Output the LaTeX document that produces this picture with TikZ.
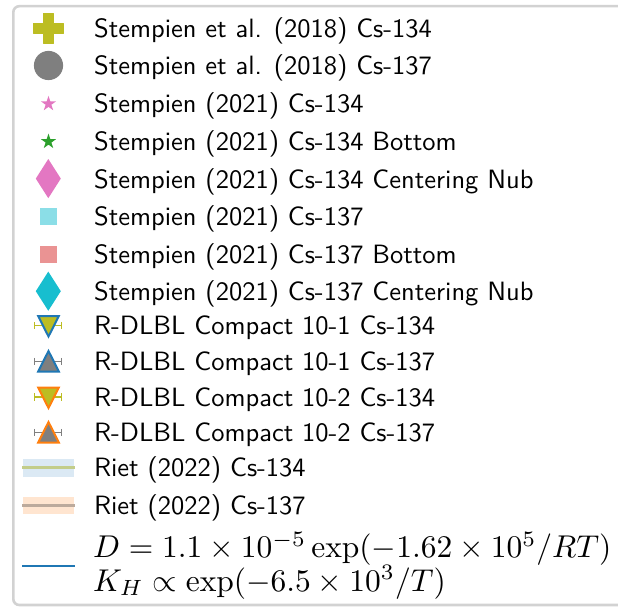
\documentclass[tikz,border=0pt]{standalone}
\usetikzlibrary{shapes.geometric}
\definecolor{olive}{HTML}{BCBD22}
\definecolor{mgray}{HTML}{7F7F7F}
\definecolor{mpink}{HTML}{E377C2}
\definecolor{mgreen}{HTML}{2CA02C}
\definecolor{mcyan}{HTML}{17BECF}
\definecolor{lcyan}{HTML}{8BDEE7}
\definecolor{lred}{HTML}{EA9393}
\definecolor{mblue}{HTML}{1F77B4}
\definecolor{morange}{HTML}{FF7F0E}
\definecolor{bandblue}{HTML}{DBE9F4}
\definecolor{bandorange}{HTML}{FFE5D0}
\definecolor{lineolive}{HTML}{C3CD8A}
\definecolor{linegray}{HTML}{BCAA9C}
\definecolor{framegray}{HTML}{D2D2D2}
\tikzset{
  lab/.style={anchor=base west, inner sep=0pt, scale=2.65, font=\fontsize{10}{12}\selectfont\sffamily},
  mlab/.style={anchor=base west, inner sep=0pt, scale=3.15, font=\fontsize{10}{12}\selectfont},
  starmark/.style={star, star points=5, star point ratio=2.618, minimum size=16pt, inner sep=0pt, draw=none},
  errbar/.style={line width=1.5pt},
}
\begin{document}
\begin{tikzpicture}[x=1pt,y=-1pt]
\useasboundingbox (0,0) rectangle (618,607);
\clip (0,0) rectangle (618,607);
% frame
\draw[framegray, line width=2.6pt, rounded corners=6pt] (700,6.2) -- (13.3,6.2) -- (13.3,605) -- (700,605);
% markers
% 1 plus
\fill[olive, draw=olive, line width=1pt, line join=round]
  (43.3,13.3) -- (53.3,13.3) -- (53.3,23.3) -- (63.3,23.3) -- (63.3,33.3) -- (53.3,33.3)
  -- (53.3,43.3) -- (43.3,43.3) -- (43.3,33.3) -- (33.3,33.3) -- (33.3,23.3) -- (43.3,23.3) -- cycle;
% 2 circle
\fill[mgray] (48.5,65.5) circle (14.6);
% 3,4 stars
\node[starmark, fill=mpink] (s1) at (48.5,103.8) {};
\node[starmark, fill=mgreen] (s2) at (48.5,141.6) {};
% 5 thin diamond
\fill[mpink] (48.3,159) -- (60.8,178.6) -- (48.3,198.2) -- (35.8,178.6) -- cycle;
% 6,7 squares
\fill[lcyan] (39.6,208.2) rectangle (56.8,225.2);
\fill[lred] (39.6,245.6) rectangle (56.8,262.6);
% 8 thin diamond cyan
\fill[mcyan] (48.3,271.6) -- (60.8,291.2) -- (48.3,310.8) -- (35.8,291.2) -- cycle;
% 9 down triangle olive/blue
\draw[olive, errbar] (34.5,325.5) -- (61.5,325.5) (34.5,321.8) -- (34.5,329.2) (61.5,321.8) -- (61.5,329.2);
\filldraw[fill=olive, draw=mblue, line width=2pt, line join=miter] (38.2,316) -- (58.8,316) -- (48.5,336.5) -- cycle;
% 10 up triangle gray/blue
\draw[mgray, errbar] (34.5,361.5) -- (61.5,361.5) (34.5,357.8) -- (34.5,365.2) (61.5,357.8) -- (61.5,365.2);
\filldraw[fill=mgray, draw=mblue, line width=2pt, line join=miter] (38.2,371.5) -- (58.8,371.5) -- (48.5,351) -- cycle;
% 11 down triangle olive/orange
\draw[olive, errbar] (34.5,397) -- (61.5,397) (34.5,393.3) -- (34.5,400.7) (61.5,393.3) -- (61.5,400.7);
\filldraw[fill=olive, draw=morange, line width=2pt, line join=miter] (38.2,387.5) -- (58.8,387.5) -- (48.5,408) -- cycle;
% 12 up triangle gray/orange
\draw[mgray, errbar] (34.5,432.5) -- (61.5,432.5) (34.5,428.8) -- (34.5,436.2) (61.5,428.8) -- (61.5,436.2);
\filldraw[fill=mgray, draw=morange, line width=2pt, line join=miter] (38.2,442.5) -- (58.8,442.5) -- (48.5,422) -- cycle;
% 13,14 bands
\fill[bandblue] (22.5,459) rectangle (74,476.5);
\draw[lineolive, line width=2.8pt] (22,467.3) -- (75,467.3);
\fill[bandorange] (22.5,496.5) rectangle (74,514);
\draw[linegray, line width=2.8pt] (22,505.3) -- (75,505.3);
% 15 blue line
\draw[mblue, line width=2.2pt] (22,566) -- (75,566);
% labels
\node[lab] (t1) at (93.5,37.6) {Stempien et al. (2018) Cs-134};
\node[lab] (t2) at (93.5,75) {Stempien et al. (2018) Cs-137};
\node[lab] (t3) at (93.5,112.8) {Stempien (2021) Cs-134};
\node[lab] (t4) at (93.5,150.5) {Stempien (2021) Cs-134 Bottom};
\node[lab] (t5) at (93.5,188) {Stempien (2021) Cs-134 Centering Nub};
\node[lab] (t6) at (93.5,225.8) {Stempien (2021) Cs-137};
\node[lab] (t7) at (93.5,263.3) {Stempien (2021) Cs-137 Bottom};
\node[lab] (t8) at (93.5,300.8) {Stempien (2021) Cs-137 Centering Nub};
\node[lab] (t9) at (93.5,334.5) {R-DLBL Compact 10-1 Cs-134};
\node[lab] (t10) at (93.5,370.5) {R-DLBL Compact 10-1 Cs-137};
\node[lab] (t11) at (93.5,406) {R-DLBL Compact 10-2 Cs-134};
\node[lab] (t12) at (93.5,441.5) {R-DLBL Compact 10-2 Cs-137};
\node[lab] (t13) at (93.5,476.5) {Riet (2022) Cs-134};
\node[lab] (t14) at (93.5,514.3) {Riet (2022) Cs-137};
\node[mlab] (t15) at (92.5,557.5) {$D = 1.1 \times 10^{-5}\exp(-1.62 \times 10^5/RT)$};
\node[mlab] (t16) at (92.5,591) {$K_H \propto \exp(-6.5 \times 10^3/T)$};
\end{tikzpicture}
\end{document}
